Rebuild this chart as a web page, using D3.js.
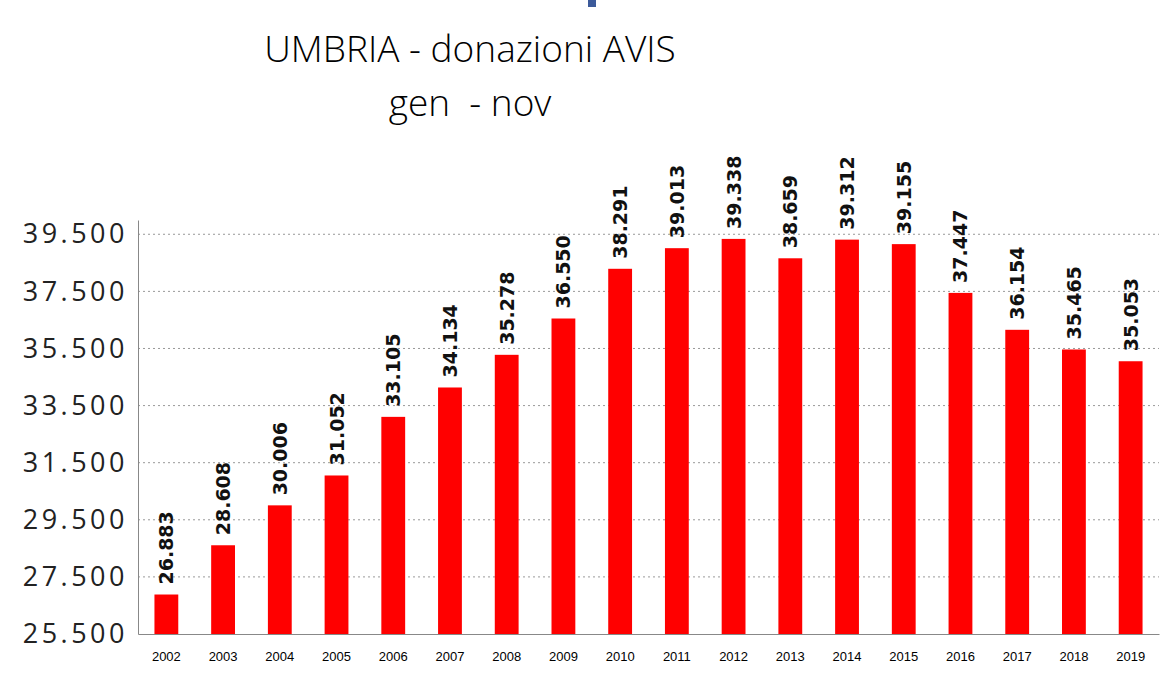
<!DOCTYPE html>
<html><head><meta charset="utf-8">
<script src="https://cdn.jsdelivr.net/npm/d3@7"></script>
<style>body{margin:0;background:#fff;font-family:"DejaVu Sans",sans-serif}</style>
</head><body><div id="chart"></div>
<script>
const years = ["2002","2003","2004","2005","2006","2007","2008","2009","2010","2011","2012","2013","2014","2015","2016","2017","2018","2019"];
const values = [26883,28608,30006,31052,33105,34134,35278,36550,38291,39013,39338,38659,39312,39155,37447,36154,35465,35053];
const yTicks = [25500,27500,29500,31500,33500,35500,37500,39500];

const svgWidth = 1173, svgHeight = 690, margin = {top: 220, right: 14, bottom: 56, left: 138},
    width = svgWidth - margin.left - margin.right,
    height = svgHeight - margin.top - margin.bottom;

const svg = d3.select("#chart").append("svg")
    .attr("width", svgWidth).attr("height", svgHeight);
const g = svg.append("g").attr("transform", `translate(${margin.left},${margin.top})`);

const fmt = v => d3.format(",")(v).replace(/,/g, ".");

let x = d3.scaleBand().domain(years).range([0, width]).paddingInner(0.58).paddingOuter(0.29);
let y = d3.scaleLinear().domain([25500, 40000]).range([height, 0]);

// small blue mark at top
svg.append("rect").attr("x", 588).attr("y", 0).attr("width", 8).attr("height", 7).attr("fill", "#3c5a9a");

// title
svg.append("text").attr("x", 470).attr("y", 62).attr("text-anchor", "middle")
    .attr("font-family", "Open Sans, sans-serif").attr("font-size", 37).attr("font-weight", 300).text("UMBRIA - donazioni AVIS");
svg.append("text").attr("x", 470).attr("y", 116).attr("text-anchor", "middle")
    .attr("font-family", "Open Sans, sans-serif").attr("font-size", 37).attr("font-weight", 300)
    .attr("xml:space", "preserve").text("gen  - nov");

// gridlines
g.selectAll(".grid").data(yTicks.slice(1)).join("line")
    .attr("x1", 0).attr("x2", width)
    .attr("y1", d => y(d)).attr("y2", d => y(d))
    .attr("stroke", "#999").attr("stroke-dasharray", "2,3");

// y axis
let yAxis = g.append("g").call(d3.axisLeft(y).tickValues(yTicks).tickFormat(fmt).tickSize(0).tickPadding(10));
yAxis.select(".domain").attr("stroke", "#888");
yAxis.selectAll("text").attr("font-family", "Open Sans, sans-serif").attr("font-size", 27)
    .attr("letter-spacing", 3.5).attr("fill", "#222");

// x axis
let xAxis = g.append("g").attr("transform", `translate(0,${height})`)
    .call(d3.axisBottom(x).tickSize(0).tickPadding(18));
xAxis.select(".domain").attr("stroke", "#888");
xAxis.selectAll("text").attr("font-size", 13).attr("fill", "#000");

// bars
g.selectAll(".bar").data(values).join("rect")
    .attr("x", (d, i) => x(years[i]))
    .attr("width", x.bandwidth())
    .attr("y", d => y(d))
    .attr("height", d => height - y(d))
    .attr("fill", "#ff0000");

// labels
g.selectAll(".lbl").data(values).join("text")
    .attr("transform", (d, i) => `translate(${x(years[i]) + x.bandwidth() / 2 + 7},${y(d) - 10}) rotate(-90)`)
    .attr("font-size", 19).attr("font-weight", "bold").attr("fill", "#111")
    .text(fmt);
</script></body></html>
